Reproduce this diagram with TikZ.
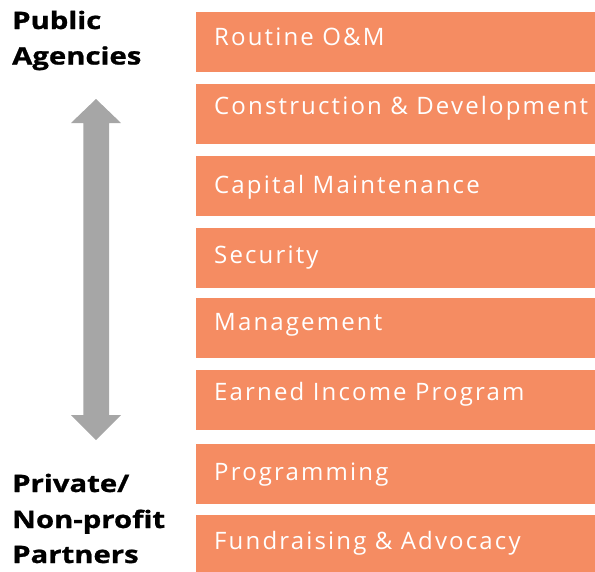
\documentclass[tikz,border=0pt]{standalone}
\usepackage{fontspec}
\setmainfont{Open Sans}
\newfontfamily\boxfont[LetterSpace=9]{Open Sans}
\newfontfamily\labelfont[FakeStretch=1.22,FakeBold=1]{Open Sans}
\definecolor{boxorange}{HTML}{F58C62}
\definecolor{arrowgray}{HTML}{A6A6A6}
\begin{document}
\begin{tikzpicture}[x=1pt,y=-1pt,
  box/.style={fill=boxorange, draw=none, anchor=north west, minimum width=399pt, minimum height=60pt, inner sep=0pt},
  boxtext/.style={anchor=base west, inner sep=0pt, text=white, font=\boxfont\fontsize{24}{28}\selectfont},
  sidelabel/.style={anchor=base west, inner sep=0pt, text=black, font=\labelfont\fontsize{24}{28}\selectfont\bfseries}]
\useasboundingbox (0,0) rectangle (595,571);
% boxes
\node[box] (b1) at (196,11.7) {};
\node[box] (b2) at (196,83.3) {};
\node[box] (b3) at (196,156) {};
\node[box] (b4) at (196,227.3) {};
\node[box] (b5) at (196,298) {};
\node[box] (b6) at (196,369.3) {};
\node[box] (b7) at (196,443.3) {};
\node[box] (b8) at (196,514.3) {};
% box texts
\node[boxtext] (t1) at (214,45.7) {Routine O\&M};
\node[boxtext] (t2) at (214,114.3) {Construction \& Development};
\node[boxtext] (t3) at (214,193.3) {Capital Maintenance};
\node[boxtext] (t4) at (214,263.3) {Security};
\node[boxtext] (t5) at (214,330.7) {Management};
\node[boxtext] (t6) at (214,400.7) {Earned Income Program};
\node[boxtext] (t7) at (214,480) {Programming};
\node[boxtext] (t8) at (214,549.3) {Fundraising \& Advocacy};
% side labels
\node[sidelabel] (p1) at (12,29) {Public};
\node[sidelabel] (p2) at (12,64.5) {Agencies};
\node[sidelabel] (q1) at (12,492) {Private/};
\node[sidelabel] (q2) at (12,528) {Non-profit};
\node[sidelabel] (q3) at (12,563) {Partners};
% double arrow
\fill[arrowgray] (96,99) -- (121,123) -- (109,123) -- (109,415) -- (121,415) -- (96,440)
  -- (71,415) -- (83.3,415) -- (83.3,123) -- (71,123) -- cycle;
\end{tikzpicture}
\end{document}
